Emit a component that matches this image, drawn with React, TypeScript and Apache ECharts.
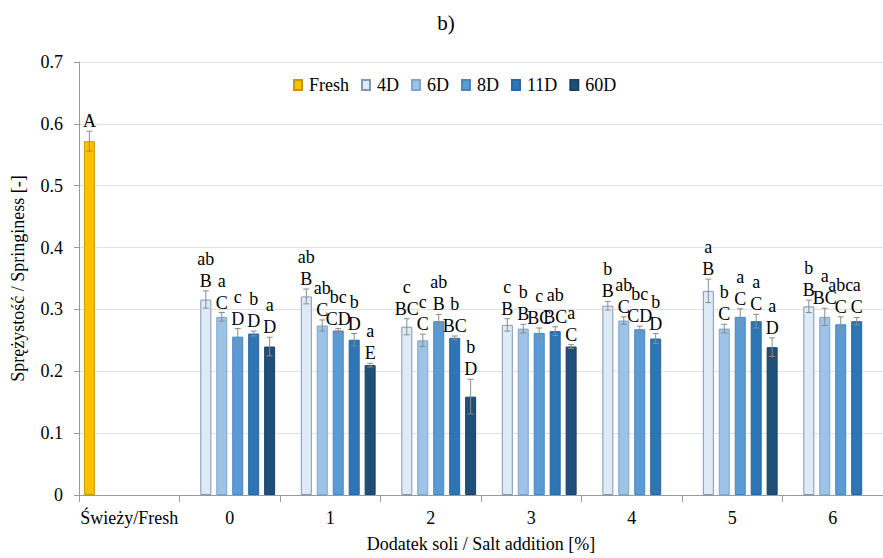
import React, { useEffect, useRef } from "react";
import * as echarts from "echarts";

const FONT = "Liberation Serif";

const categories = ["Świeży/Fresh", "0", "1", "2", "3", "4", "5", "6"];
const seriesNames = ["Fresh", "4D", "6D", "8D", "11D", "60D"];
const colors = ["#FFC000", "#DEEBF7", "#9DC3E6", "#5B9BD5", "#2E75B6", "#1F4E79"];
const borders = ["#C99700", "#8497B0", "#7FA6CC", "#4A86BE", "#28679F", "#1A4266"];

const fresh = [0.572, null, null, null, null, null, null, null];
const d4 = [null, 0.316, 0.321, 0.272, 0.275, 0.306, 0.33, 0.305];
const d6 = [null, 0.288, 0.274, 0.25, 0.269, 0.282, 0.269, 0.288];
const d8 = [null, 0.256, 0.266, 0.281, 0.262, 0.268, 0.288, 0.276];
const d11 = [null, 0.261, 0.251, 0.254, 0.265, 0.253, 0.281, 0.281];
const d60 = [null, 0.24, 0.21, 0.159, 0.24, null, 0.239, null];

const eFresh = [0.016, null, null, null, null, null, null, null];
const e4 = [null, 0.014, 0.012, 0.013, 0.01, 0.007, 0.019, 0.01];
const e6 = [null, 0.007, 0.009, 0.01, 0.007, 0.006, 0.007, 0.014];
const e8 = [null, 0.013, 0.003, 0.011, 0.008, 0.005, 0.013, 0.012];
const e11 = [null, 0.004, 0.01, 0.003, 0.007, 0.008, 0.011, 0.006];
const e60 = [null, 0.015, 0.003, 0.028, 0.003, null, 0.015, null];

const lowFresh = ["", "", "", "", "", "", "", ""];
const low4 = ["", "ab", "ab", "c", "c", "b", "a", "b"];
const low6 = ["", "a", "ab", "c", "b", "ab", "b", "a"];
const low8 = ["", "c", "bc", "ab", "c", "bc", "a", "abc"];
const low11 = ["", "b", "b", "b", "ab", "b", "a", "a"];
const low60 = ["", "a", "a", "b", "a", "", "a", ""];

const upFresh = ["A", "", "", "", "", "", "", ""];
const up4 = ["", "B", "B", "BC", "B", "B", "B", "B"];
const up6 = ["", "C", "C", "C", "B", "C", "C", "BC"];
const up8 = ["", "D", "CD", "B", "BC", "CD", "C", "C"];
const up11 = ["", "D", "D", "BC", "BC", "D", "C", "C"];
const up60 = ["", "D", "E", "D", "C", "", "D", ""];

const values = [fresh, d4, d6, d8, d11, d60];
const errors = [eFresh, e4, e6, e8, e11, e60];
const lowers = [lowFresh, low4, low6, low8, low11, low60];
const uppers = [upFresh, up4, up6, up8, up11, up60];

const BAR_W = 11;
const GAP = 0.45;
const PITCH = BAR_W * (1 + GAP);

export default function App() {
  const ref = useRef<HTMLDivElement>(null);
  useEffect(() => {
    document.body.style.margin = "0";
    const chart = echarts.init(ref.current!, null, { renderer: "svg" });

    const barSeries = seriesNames.map((name, i) => ({
      name,
      type: "bar",
      barWidth: BAR_W,
      barGap: "45%",
      data: values[i].map((v) => (v == null ? "-" : v)),
      itemStyle: { color: colors[i], borderColor: borders[i], borderWidth: 1 },
      z: 2,
    }));

    const errSeries = seriesNames.map((name, i) => {
      const items: { idx: number; v: number; e: number; lo: string; up: string }[] = [];
      values[i].forEach((v, idx) => {
        if (v != null) items.push({ idx, v, e: errors[i][idx] || 0, lo: lowers[i][idx], up: uppers[i][idx] });
      });
      return {
        name: "err-" + name,
        type: "custom",
        z: 5,
        clip: false,
        encode: { x: 0, y: 1 },
        data: items.map((it) => [it.idx, it.v, it.e]),
        renderItem: (params: any, api: any) => {
          const it = items[params.dataIndex];
          const lo = api.coord([it.idx, it.v - it.e]);
          const hi = api.coord([it.idx, it.v + it.e]);
          const x = lo[0] + (i - 2.5) * PITCH;
          const yT = hi[1];
          const yB = lo[1];
          const ls = { stroke: "#8C8C8C", lineWidth: 1 };
          const children: any[] = [
            { type: "line", shape: { x1: x, y1: yB, x2: x, y2: yT }, style: ls },
            { type: "line", shape: { x1: x - 3, y1: yT, x2: x + 3, y2: yT }, style: ls },
            { type: "line", shape: { x1: x - 3, y1: yB, x2: x + 3, y2: yB }, style: ls },
          ];
          if (it.up) {
            children.push({
              type: "text",
              x,
              y: yT - 1,
              style: { text: it.up, align: "center", verticalAlign: "bottom", fontFamily: FONT, fontSize: 18, fill: "#000" },
            });
          }
          if (it.lo) {
            children.push({
              type: "text",
              x,
              y: yT - 23,
              style: { text: it.lo, align: "center", verticalAlign: "bottom", fontFamily: FONT, fontSize: 18, fill: "#000" },
            });
          }
          return { type: "group", children };
        },
      };
    });

    chart.setOption({
      animation: false,
      backgroundColor: "#fff",
      textStyle: { fontFamily: FONT },
      graphic: [
        {
          type: "text",
          x: 446,
          y: 23,
          style: { text: "b)", fontFamily: FONT, fontSize: 21, fill: "#000", align: "center", verticalAlign: "middle" },
        },
      ],
      legend: {
        data: seriesNames,
        left: 288,
        top: 71,
        icon: "rect",
        itemWidth: 8,
        itemHeight: 10,
        itemGap: 12,
        textStyle: { fontFamily: FONT, fontSize: 18, color: "#000", padding: [0, 0, 0, 2] },
      },
      grid: { left: 79, top: 62, width: 814, height: 434, containLabel: false },
      xAxis: {
        type: "category",
        data: categories,
        name: "Dodatek soli / Salt addition [%]",
        nameLocation: "middle",
        nameGap: 40,
        nameTextStyle: { fontFamily: FONT, fontSize: 18, color: "#000" },
        axisLine: { lineStyle: { color: "#9a9a9a" } },
        axisTick: { show: true, alignWithLabel: false, length: 7, lineStyle: { color: "#9a9a9a" } },
        axisLabel: { fontFamily: FONT, fontSize: 18, color: "#000", margin: 14, interval: 0 },
      },
      yAxis: {
        type: "value",
        min: 0,
        max: 0.7,
        interval: 0.1,
        name: "Sprężystość / Springiness [-]",
        nameLocation: "middle",
        nameGap: 52,
        nameTextStyle: { fontFamily: FONT, fontSize: 18, color: "#000" },
        axisLine: { show: true, lineStyle: { color: "#9a9a9a" } },
        axisTick: { show: true, length: 5, lineStyle: { color: "#9a9a9a" } },
        axisLabel: {
          fontFamily: FONT,
          fontSize: 18,
          color: "#000",
          margin: 16,
          formatter: (v: number) => (v === 0 ? "0" : v.toFixed(1)),
        },
        splitLine: { lineStyle: { color: "#E0E0E0" } },
      },
      series: [...barSeries, ...errSeries],
    });
    return () => chart.dispose();
  }, []);
  return <div ref={ref} style={{ width: 883, height: 558 }} />;
}
